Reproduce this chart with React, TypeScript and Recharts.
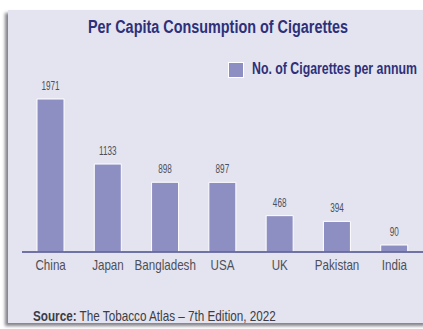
import { BarChart, Bar, XAxis, YAxis, LabelList } from 'recharts';

// ── Data ──────────────────────────────────────────────────────────────────────

const COUNTRIES = ['China', 'Japan', 'Bangladesh', 'USA', 'UK', 'Pakistan', 'India'];
const CIGARETTES = [1971, 1133, 898, 897, 468, 394, 90];
const SERIES_NAME = 'No. of Cigarettes per annum';

const data = COUNTRIES.map((country, i) => ({ country, value: CIGARETTES[i] }));

// ── Styles ────────────────────────────────────────────────────────────────────

const FONT = "'Liberation Sans', Arial, sans-serif";
const NAVY = '#2e3079';
const BAR = '#8d8ec2';
const GREY = '#4f4f58';

// narrow text by squeezing a regular face (no condensed font available)
function CountryTick({ x, y, payload }: any) {
  return (
    <g transform={`translate(${x},${y})`}>
      <text transform="scale(0.8,1)" textAnchor="middle" dy={10} fill={GREY} fontSize={14.5} fontFamily={FONT}>
        {payload.value}
      </text>
    </g>
  );
}

function ValueLabel({ x, y, width, value }: any) {
  return (
    <g transform={`translate(${x + width / 2},${y - 9})`}>
      <text transform="scale(0.68,1)" textAnchor="middle" fill={GREY} fontSize={12} fontFamily={FONT}>
        {value}
      </text>
    </g>
  );
}

const squeezed = (sx: number): React.CSSProperties => ({
  position: 'absolute',
  whiteSpace: 'nowrap',
  transform: `scaleX(${sx})`,
  transformOrigin: 'left center',
  fontFamily: FONT,
});

export default function App() {
  return (
    <div style={{ position: 'absolute', left: 0, top: 0, width: 423, height: 329, background: '#fff', overflow: 'hidden' }}>
      {/* panel */}
      <div
        style={{
          position: 'absolute',
          left: 8,
          top: 10,
          width: 420,
          height: 313,
          background: '#e3e4f0',
          boxShadow: '-3px 3px 3px rgba(90,90,100,0.75)',
        }}
      />
      <div style={{ ...squeezed(0.8), left: 88, top: 17, fontWeight: 700, fontSize: 18, color: NAVY }}>
        Per Capita Consumption of Cigarettes
      </div>

      {/* legend */}
      <span style={{ position: 'absolute', left: 228, top: 62, width: 14, height: 14, background: BAR, border: '1px solid #fff' }} />
      <div style={{ ...squeezed(0.77), left: 252, top: 60, fontWeight: 700, fontSize: 16, color: NAVY }}>
        {SERIES_NAME}
      </div>

      <div style={{ position: 'absolute', left: 0, top: 0 }}>
        <BarChart width={423} height={329} data={data} margin={{ top: 99, right: 0, left: 22, bottom: 47 }}>
          <XAxis
            dataKey="country"
            height={30}
            tickLine={false}
            axisLine={{ stroke: '#4a4c8c', strokeWidth: 1.5 }}
            tick={<CountryTick />}
            interval={0}
          />
          <YAxis hide domain={[0, 1971]} />
          <Bar
            dataKey="value"
            name={SERIES_NAME}
            fill={BAR}
            stroke="#ffffff"
            strokeWidth={1}
            barSize={27}
            isAnimationActive={false}
          >
            <LabelList dataKey="value" content={<ValueLabel />} />
          </Bar>
        </BarChart>
      </div>

      <div style={{ ...squeezed(0.78), left: 33, top: 307, fontSize: 15, color: '#3c3c44' }}>
        <b>Source:</b> The Tobacco Atlas – 7th Edition, 2022
      </div>
    </div>
  );
}
